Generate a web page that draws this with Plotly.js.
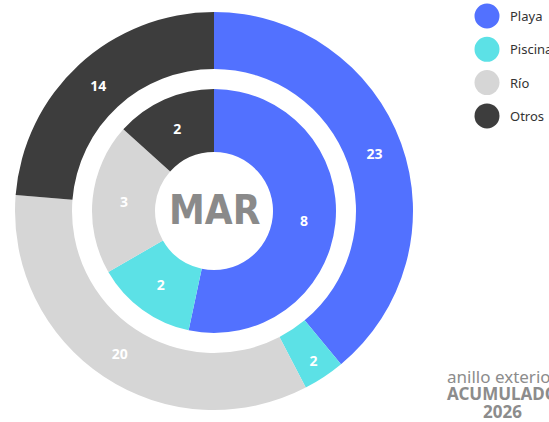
<!DOCTYPE html>
<html>
<head>
<meta charset="utf-8">
<script src="https://cdn.plot.ly/plotly-3.0.1.min.js"></script>
<style>
  html, body { margin: 0; padding: 0; background: #ffffff; }
  #chart { width: 549px; height: 422px; }
</style>
</head>
<body>
<div id="chart"></div>
<script>
// ---- data ----
const categories = ['Playa', 'Piscina', 'Río', 'Otros'];
const outerValues = [23, 2, 20, 14];   // anillo exterior: acumulado 2026
const innerValues = [8, 2, 3, 2];      // anillo interior: MAR
const colors = ['#5271FF', '#5CE1E6', '#D6D6D6', '#3D3D3D'];
const centerLabel = 'MAR';
const noteLines = ['anillo exterior', 'ACUMULADO', '2026'];

// ---- geometry (pixels) ----
const W = 549, H = 422;
const cx = 214, cy = 211;
const rOuter = 199, rOuterHole = 142;
const rInner = 122, rInnerHole = 59;

function domainFor(r) {
  return {
    x: [(cx - r) / W, (cx + r) / W],
    y: [1 - (cy + r) / H, 1 - (cy - r) / H]
  };
}

const textFont = { family: 'Open Sans, Noto Sans, sans-serif', size: 14, color: '#ffffff', weight: 'bold' };

function ring(values, r, rHole) {
  return {
    type: 'pie',
    labels: categories,
    values: values,
    domain: domainFor(r),
    hole: rHole / r,
    sort: false,
    direction: 'clockwise',
    rotation: 0,
    marker: { colors: colors, line: { width: 0 } },
    textinfo: 'value',
    textposition: 'inside',
    insidetextorientation: 'horizontal',
    textfont: textFont,
    hoverinfo: 'none',
    showlegend: false
  };
}

const traces = [
  ring(outerValues, rOuter, rOuterHole),
  ring(innerValues, rInner, rInnerHole)
];

// ---- custom legend (circles + labels) ----
const legendX = 487, legendY0 = 16, legendStep = 33.3, legendR = 12.5;
const shapes = categories.map((c, i) => {
  const y = legendY0 + i * legendStep;
  return {
    type: 'circle', xref: 'paper', yref: 'paper',
    x0: (legendX - legendR) / W, x1: (legendX + legendR) / W,
    y0: 1 - (y + legendR) / H, y1: 1 - (y - legendR) / H,
    fillcolor: colors[i], line: { width: 0 }
  };
});

const annotations = categories.map((c, i) => ({
  xref: 'paper', yref: 'paper',
  x: 508 / W, y: 1 - (legendY0 + i * legendStep) / H,
  xanchor: 'left', yanchor: 'middle',
  text: c, showarrow: false,
  font: { family: 'Noto Sans, sans-serif', size: 13, color: '#333333' }
}));

annotations.push({
  xref: 'paper', yref: 'paper',
  x: cx / W, y: 1 - (cy - 1) / H,
  xanchor: 'center', yanchor: 'middle',
  text: centerLabel, showarrow: false,
  font: { family: 'Liberation Sans Narrow, DejaVu Sans Condensed, sans-serif', size: 40, color: '#8A8A8A', weight: 'bold' }
});

const noteY = [376, 393, 411];
noteLines.forEach((t, i) => {
  annotations.push({
    xref: 'paper', yref: 'paper',
    x: 502 / W, y: 1 - noteY[i] / H,
    xanchor: 'center', yanchor: 'middle',
    text: t, showarrow: false,
    font: { family: 'Noto Sans, sans-serif', size: 17, color: '#8C8C8C', weight: i === 0 ? 'normal' : 'bold' }
  });
});

const layout = {
  width: W, height: H,
  margin: { l: 0, r: 0, t: 0, b: 0 },
  paper_bgcolor: '#ffffff',
  plot_bgcolor: '#ffffff',
  showlegend: false,
  shapes: shapes,
  annotations: annotations
};

Plotly.newPlot('chart', traces, layout, { staticPlot: true, displayModeBar: false });
</script>
</body>
</html>
